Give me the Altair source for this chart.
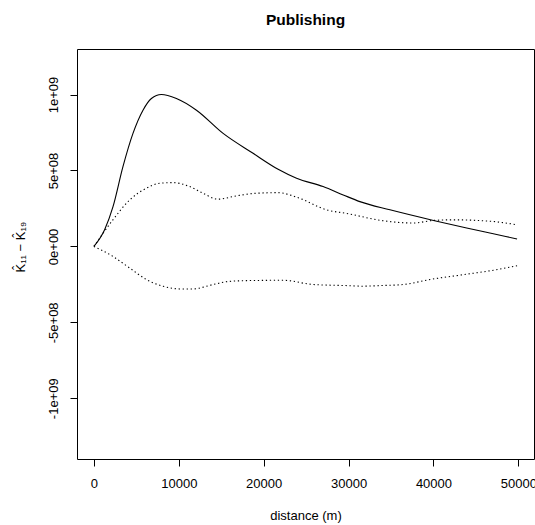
import altair as alt
import pandas as pd

# observed difference K11 - K19
obs_d = [0, 1260, 2240, 3420, 4600, 5780, 6770, 7950, 9720, 12080, 15220, 18750,
         21700, 23870, 27000, 29370, 31330, 34870, 40000, 43910, 47050, 49850]
obs_v = [0.0, 0.11e9, 0.26e9, 0.525e9, 0.744e9, 0.897e9, 0.974e9, 1.0e9, 0.974e9,
         0.897e9, 0.744e9, 0.613e9, 0.508e9, 0.449e9, 0.394e9, 0.339e9, 0.295e9,
         0.241e9, 0.171e9, 0.121e9, 0.083e9, 0.049e9]

# upper envelope
up_d = [0, 2240, 4210, 6180, 7750, 9320, 11290, 12850, 14620, 16790, 19150, 21700,
        24000, 27400, 30000, 33690, 37620, 40000, 42340, 47050, 49850]
up_v = [0.0, 0.175e9, 0.306e9, 0.383e9, 0.416e9, 0.42e9, 0.394e9, 0.35e9, 0.311e9,
        0.333e9, 0.35e9, 0.354e9, 0.322e9, 0.241e9, 0.215e9, 0.172e9, 0.154e9,
        0.171e9, 0.175e9, 0.164e9, 0.142e9]

# lower envelope
lo_d = [0, 2240, 4210, 6180, 8140, 10110, 11680, 14040, 16000, 18360, 22290, 25830,
        29760, 31720, 33690, 36440, 39590, 43520, 47050, 49850]
lo_v = [0.0, -0.066e9, -0.142e9, -0.218e9, -0.262e9, -0.28e9, -0.28e9, -0.251e9,
        -0.23e9, -0.225e9, -0.223e9, -0.251e9, -0.258e9, -0.262e9, -0.258e9,
        -0.251e9, -0.218e9, -0.186e9, -0.157e9, -0.127e9]

x_ticks = [0, 10000, 20000, 30000, 40000, 50000]
y_ticks = [-1e9, -5e8, 0, 5e8, 1e9]
y_tick_labels = ["-1e+09", "-5e+08", "0e+00", "5e+08", "1e+09"]

FONT = "Liberation Sans"

obs = pd.DataFrame({"d": obs_d, "v": obs_v})
up = pd.DataFrame({"d": up_d, "v": up_v})
lo = pd.DataFrame({"d": lo_d, "v": lo_v})

label_expr = " : ".join(
    f"datum.value == {v} ? '{l}'" for v, l in zip(y_ticks, y_tick_labels)
) + " : ''"

x_enc = alt.X(
    "d:Q",
    scale=alt.Scale(domain=[-1994, 51844], nice=False, zero=False),
    axis=alt.Axis(
        values=x_ticks, title="distance (m)", format="d",
        titleX=228.5, titleY=60, titleBaseline="alphabetic", titleAlign="center",
        labelPadding=11,
    ),
)
y_enc = alt.Y(
    "v:Q",
    scale=alt.Scale(domain=[-1.4e9, 1.3e9], nice=False, zero=False),
    axis=alt.Axis(
        values=y_ticks, labelExpr=label_expr, title="K̂₁₁ − K̂₁₉",
        labelAngle=270, labelAlign="center", labelBaseline="alphabetic",
        labelPadding=12.6,
        titleAngle=270, titleX=-53, titleY=197.7, titleAlign="center",
        titleBaseline="alphabetic",
    ),
)

solid = alt.Chart(obs).mark_line(color="black", strokeWidth=1.1, interpolate="monotone").encode(x=x_enc, y=y_enc)
upper = alt.Chart(up).mark_line(color="black", strokeWidth=1.1, strokeDash=[1.3, 2.7],
                                 interpolate="monotone").encode(x="d:Q", y="v:Q")
lower = alt.Chart(lo).mark_line(color="black", strokeWidth=1.1, strokeDash=[1.3, 2.7],
                                 interpolate="monotone").encode(x="d:Q", y="v:Q")

chart = alt.layer(solid, upper, lower).properties(
    width=457, height=410,
    padding={"left": 77, "top": 49, "right": 1, "bottom": 66},
    autosize=alt.AutoSizeParams(type="none"),
    background="white",
    title=alt.TitleParams(
        "Publishing", font=FONT, fontSize=15.5, fontWeight="bold", color="black",
        anchor="middle", baseline="alphabetic", offset=9, frame="group",
    ),
).configure_view(
    stroke="black", strokeWidth=1,
).configure_axis(
    domain=False, grid=False, ticks=True, tickSize=7, tickColor="black", tickWidth=1,
    labelFont=FONT, labelFontSize=13, labelColor="black",
    titleFont=FONT, titleFontSize=13, titleColor="black", titleFontWeight="normal",
)

chart.save("out.html", embed_options={"renderer": "svg", "actions": False})
